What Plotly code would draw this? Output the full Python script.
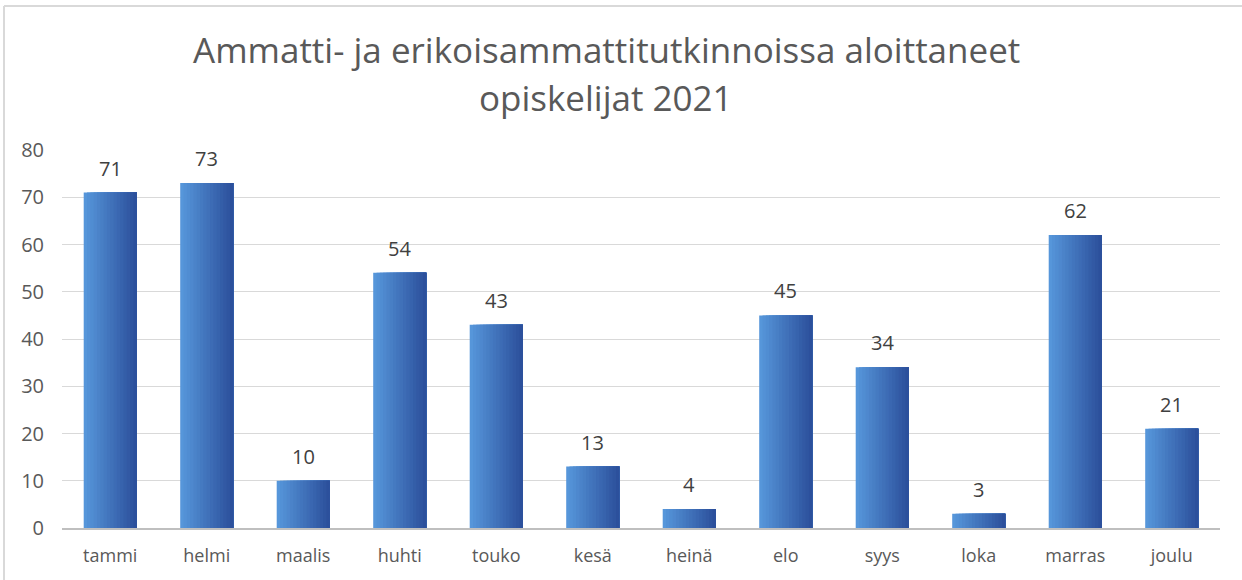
import plotly.graph_objects as go

months = ["tammi", "helmi", "maalis", "huhti", "touko", "kesä", "heinä", "elo", "syys", "loka", "marras", "joulu"]
values = [71, 73, 10, 54, 43, 13, 4, 45, 34, 3, 62, 21]
yticks = [0, 10, 20, 30, 40, 50, 60, 70, 80]
title_lines = ["Ammatti- ja erikoisammattitutkinnoissa aloittaneet", "opiskelijat 2021"]

W, H = 1242, 580
ML, MR, MT, MB = 62, 22, 150, 52
PW, PH = W - ML - MR, H - MT - MB

def px_x(x):
    return (x - ML) / PW

def px_y(y):
    return (H - MB - y) / PH

c0 = (86, 150, 218)
c1 = (44, 80, 156)
N = 16
bw = 0.55

fig = go.Figure()
for i in range(N):
    t = i / (N - 1)
    col = tuple(round(c0[k] + (c1[k] - c0[k]) * t) for k in range(3))
    off = -bw / 2 + i * bw / N
    fig.add_trace(go.Bar(
        x=months, y=values,
        width=bw - i * bw / N, offset=off,
        marker=dict(color="rgb(%d,%d,%d)" % col, line=dict(width=0)),
        hoverinfo="skip", showlegend=False,
    ))

font = "Open Sans, Lato, sans-serif"
for m, v in zip(months, values):
    fig.add_annotation(x=m, y=v, text=str(v), showarrow=False, yanchor="bottom",
                       yshift=9, font=dict(family=font, size=20, color="#404040"))

fig.add_annotation(xref="paper", yref="paper", x=px_x(606), y=px_y(50), text=title_lines[0],
                   showarrow=False, xanchor="center", yanchor="middle",
                   font=dict(family=font, size=35, color="#595959"))
fig.add_annotation(xref="paper", yref="paper", x=px_x(606), y=px_y(98), text=title_lines[1],
                   showarrow=False, xanchor="center", yanchor="middle",
                   font=dict(family=font, size=35, color="#595959"))

# outer chart border (left and top visible)
fig.add_shape(type="line", xref="paper", yref="paper", x0=px_x(4), x1=px_x(4), y0=px_y(600), y1=px_y(6),
              line=dict(color="#d9d9d9", width=2))
fig.add_shape(type="line", xref="paper", yref="paper", x0=px_x(4), x1=px_x(1260), y0=px_y(6), y1=px_y(6),
              line=dict(color="#d9d9d9", width=2))

fig.update_layout(
    width=W, height=H,
    margin=dict(l=ML, r=MR, t=MT, b=MB),
    barmode="overlay",
    plot_bgcolor="white", paper_bgcolor="white",
    font=dict(family=font, color="#595959", size=18),
    xaxis=dict(type="category", showgrid=False, showline=True, linecolor="#bfbfbf", linewidth=2,
               ticks="outside", ticklen=10, tickcolor="rgba(0,0,0,0)",
               tickfont=dict(size=18, color="#595959")),
    yaxis=dict(range=[0, 80], tickvals=yticks, showgrid=True, gridcolor="#d9d9d9", gridwidth=1,
               zeroline=False, showline=False, ticks="outside", ticklen=13,
               tickcolor="rgba(0,0,0,0)", tickfont=dict(size=20, color="#595959")),
)

fig.write_html("out.html", config={"displayModeBar": False},
               post_script="document.body.style.margin='0';document.body.style.overflow='hidden';")
